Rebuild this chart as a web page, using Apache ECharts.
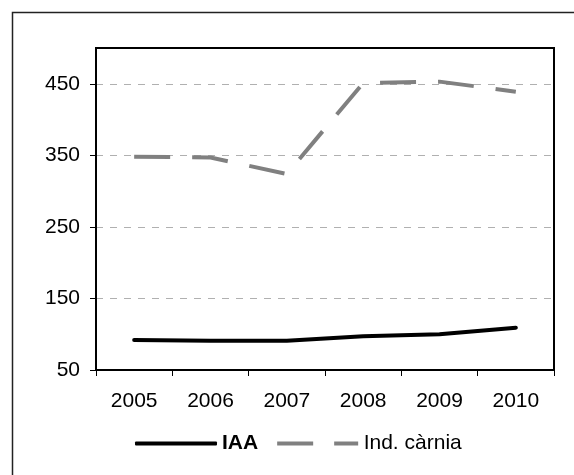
<!DOCTYPE html>
<html>
<head>
<meta charset="utf-8">
<script src="https://cdn.jsdelivr.net/npm/echarts@6/dist/echarts.min.js"></script>
<style>
  html, body { margin: 0; padding: 0; background: #fff; }
  #chart { width: 574px; height: 475px; }
</style>
</head>
<body>
<div id="chart"></div>
<script>
// dades
const years = ["2005", "2006", "2007", "2008", "2009", "2010"];
const iaa = [92, 91, 91, 97, 100, 109];
const carnia = [348, 347, 324, 451, 453, 439];
const yTicks = [50, 150, 250, 350, 450];

const chart = echarts.init(document.getElementById("chart"));
const font = "Liberation Sans, Arial, sans-serif";

const option = {
  animation: false,
  backgroundColor: "#fff",
  textStyle: { fontFamily: font },
  graphic: [
    {
      type: "rect",
      shape: { x: 12.5, y: 12.5, width: 600, height: 500 },
      style: { fill: null, stroke: "#222", lineWidth: 1.5 },
      silent: true
    }
  ],
  grid: {
    left: 96,
    top: 48,
    right: 20,
    bottom: 105,
    show: true,
    borderColor: "#000",
    borderWidth: 2
  },
  xAxis: {
    type: "category",
    data: years,
    boundaryGap: true,
    axisLine: { lineStyle: { color: "#000", width: 2 } },
    axisTick: { show: true, length: 6, lineStyle: { color: "#000", width: 1 } },
    axisLabel: { color: "#000", fontSize: 21, fontFamily: font, margin: 21 },
    splitLine: { show: false }
  },
  yAxis: {
    type: "value",
    min: yTicks[0],
    max: 500,
    interval: 100,
    axisLine: { show: true, lineStyle: { color: "#000", width: 2 } },
    axisTick: { show: true, length: 6, lineStyle: { color: "#000", width: 1 } },
    axisLabel: {
      color: "#000",
      fontSize: 21,
      fontFamily: font,
      margin: 16,
      showMaxLabel: false
    },
    splitLine: {
      show: true,
      showMaxLine: false,
      showMinLine: false,
      lineStyle: { color: "#b0b0b0", width: 1, type: [7, 7] }
    }
  },
  legend: {
    bottom: 16,
    left: 130,
    itemWidth: 82,
    itemHeight: 4,
    itemGap: 19,
    textStyle: { fontSize: 21, color: "#000", fontFamily: font },
    data: [
      {
        name: "IAA",
        icon: "roundRect",
        itemStyle: { color: "#000" },
        textStyle: { fontWeight: "bold" }
      },
      {
        name: "Ind. càrnia",
        icon: "path://M0,0h36v4h-36zM57,0h24v4h-24z",
        itemStyle: { color: "#808080" }
      }
    ]
  },
  series: [
    {
      name: "IAA",
      type: "line",
      data: iaa,
      symbol: "none",
      color: "#000",
      lineStyle: { color: "#000", width: 4, cap: "round" }
    },
    {
      name: "Ind. càrnia",
      type: "line",
      data: carnia,
      symbol: "none",
      color: "#808080",
      lineStyle: { color: "#808080", width: 4, type: [36, 22], cap: "butt" }
    }
  ]
};

chart.setOption(option, true);
</script>
</body>
</html>
